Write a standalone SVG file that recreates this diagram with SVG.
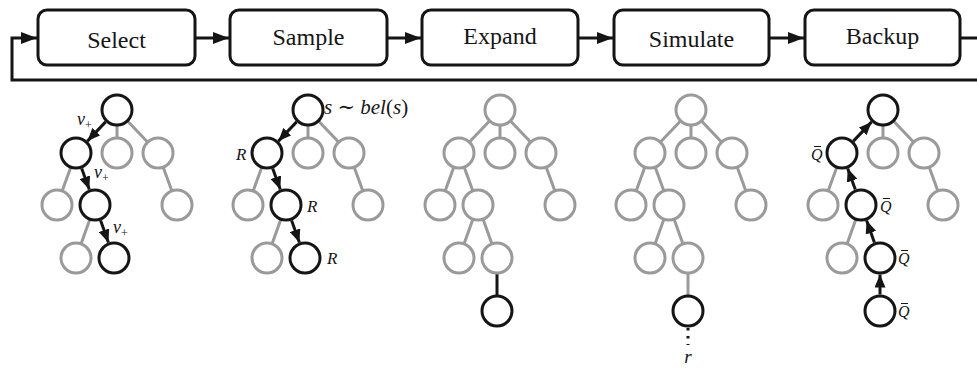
<svg xmlns="http://www.w3.org/2000/svg" width="977" height="369" viewBox="0 0 977 369" font-family="'Liberation Serif', 'DejaVu Serif', serif">
<defs>
<style>
.box{fill:#fff;stroke:#151515;stroke-width:3}
.lbl{font-family:'Liberation Serif','DejaVu Serif',serif;font-size:24px;text-anchor:middle;fill:#151515}
.g{fill:#fff;stroke:#9a9a9a;stroke-width:3}
.k{fill:#fff;stroke:#151515;stroke-width:3}
.eg{stroke:#9a9a9a;stroke-width:3;fill:none}
.ek{stroke:#151515;stroke-width:3;fill:none}
.arr{stroke:#151515;stroke-width:3;fill:none;marker-end:url(#ah)}
.flow{stroke:#151515;stroke-width:3;fill:none}
.m{font-family:'Liberation Serif','DejaVu Serif',serif;font-style:italic;fill:#151515}
.bar{stroke:#151515;stroke-width:1}
</style>
<marker id="ah" markerUnits="userSpaceOnUse" markerWidth="13" markerHeight="11" refX="13" refY="5.5" orient="auto">
<path d="M0,0 L13,5.5 L0,11 z" fill="#151515"/>
</marker>
<marker id="fh" markerUnits="userSpaceOnUse" markerWidth="16" markerHeight="12" refX="16" refY="6" orient="auto">
<path d="M0,0 L16,6 L0,12 z" fill="#151515"/>
</marker>
</defs>

<g id="connectors">
<path class="flow" d="M195,38 H229" marker-end="url(#fh)"/>
<path class="flow" d="M387,38 H421" marker-end="url(#fh)"/>
<path class="flow" d="M578,38 H613" marker-end="url(#fh)"/>
<path class="flow" d="M769,38 H804" marker-end="url(#fh)"/>
<path class="flow" d="M960,38 H990 V80 H12 V38 H37" marker-end="url(#fh)"/>
</g>

<g id="select"><rect class="box" x="38" y="10" width="157" height="55" rx="9"/><text class="lbl" x="116.5" y="47.5">Select</text></g>
<g id="sample"><rect class="box" x="230" y="10" width="157" height="55" rx="9"/><text class="lbl" x="308.5" y="44.5">Sample</text></g>
<g id="expand"><rect class="box" x="422" y="10" width="156" height="55" rx="9"/><text class="lbl" x="500" y="44">Expand</text></g>
<g id="simulate"><rect class="box" x="614" y="10" width="155" height="55" rx="9"/><text class="lbl" x="691.5" y="47">Simulate</text></g>
<g id="backup"><rect class="box" x="805" y="10" width="155" height="55" rx="9"/><text class="lbl" x="882.5" y="43.5">Backup</text></g>

<!-- Tree 1: Select -->
<g id="tree-select" transform="translate(117,110)">
<g class="edges">
<line class="eg" x1="0" y1="0" x2="0" y2="43"/>
<line class="eg" x1="0" y1="0" x2="41" y2="43"/>
<line class="eg" x1="-41" y1="43" x2="-60" y2="95"/>
<line class="eg" x1="41" y1="43" x2="60" y2="95"/>
<line class="eg" x1="-22" y1="95" x2="-41" y2="148"/>
<line class="arr" x1="-11.4" y1="11.9" x2="-29.6" y2="31.1"/>
<line class="arr" x1="-35.3" y1="58.5" x2="-27.7" y2="79.5"/>
<line class="arr" x1="-16.4" y1="110.5" x2="-8.6" y2="132.5"/>
</g>
<g id="s-root"><circle class="k" cx="0" cy="0" r="15"/></g>
<g id="s-a"><circle class="k" cx="-41" cy="43" r="15"/></g>
<g id="s-b"><circle class="g" cx="0" cy="43" r="15"/></g>
<g id="s-c"><circle class="g" cx="41" cy="43" r="15"/></g>
<g id="s-d"><circle class="g" cx="-60" cy="95" r="15"/></g>
<g id="s-e"><circle class="k" cx="-22" cy="95" r="15"/></g>
<g id="s-f"><circle class="g" cx="60" cy="95" r="15"/></g>
<g id="s-g"><circle class="g" cx="-41" cy="148" r="15"/></g>
<g id="s-h"><circle class="k" cx="-3" cy="148" r="15"/></g>
<text class="m" x="-40" y="15" font-size="18">v<tspan font-style="normal" font-size="12" dy="4">+</tspan></text>
<text class="m" x="-23" y="68" font-size="18">v<tspan font-style="normal" font-size="12" dy="4">+</tspan></text>
<text class="m" x="-4" y="123" font-size="18">v<tspan font-style="normal" font-size="12" dy="4">+</tspan></text>
</g>

<!-- Tree 2: Sample -->
<g id="tree-sample" transform="translate(308,110)">
<g class="edges">
<line class="eg" x1="0" y1="0" x2="0" y2="43"/>
<line class="eg" x1="0" y1="0" x2="41" y2="43"/>
<line class="eg" x1="-41" y1="43" x2="-60" y2="95"/>
<line class="eg" x1="41" y1="43" x2="60" y2="95"/>
<line class="eg" x1="-22" y1="95" x2="-41" y2="148"/>
<line class="arr" x1="-11.4" y1="11.9" x2="-29.6" y2="31.1"/>
<line class="arr" x1="-35.3" y1="58.5" x2="-27.7" y2="79.5"/>
<line class="arr" x1="-16.4" y1="110.5" x2="-8.6" y2="132.5"/>
</g>
<g id="p-root"><circle class="k" cx="0" cy="0" r="15"/></g>
<g id="p-a"><circle class="k" cx="-41" cy="43" r="15"/></g>
<g id="p-b"><circle class="g" cx="0" cy="43" r="15"/></g>
<g id="p-c"><circle class="g" cx="41" cy="43" r="15"/></g>
<g id="p-d"><circle class="g" cx="-60" cy="95" r="15"/></g>
<g id="p-e"><circle class="k" cx="-22" cy="95" r="15"/></g>
<g id="p-f"><circle class="g" cx="60" cy="95" r="15"/></g>
<g id="p-g"><circle class="g" cx="-41" cy="148" r="15"/></g>
<g id="p-h"><circle class="k" cx="-3" cy="148" r="15"/></g>
<text class="m" x="16" y="4" font-size="21">s<tspan font-style="normal"> ∼ </tspan>bel<tspan font-style="normal">(</tspan>s<tspan font-style="normal">)</tspan></text>
<text class="m" x="-72" y="50" font-size="17">R</text>
<text class="m" x="-1" y="102" font-size="17">R</text>
<text class="m" x="19" y="154" font-size="17">R</text>
</g>

<!-- Tree 3: Expand -->
<g id="tree-expand" transform="translate(500,110)">
<g class="edges">
<line class="eg" x1="0" y1="0" x2="-41" y2="43"/>
<line class="eg" x1="0" y1="0" x2="0" y2="43"/>
<line class="eg" x1="0" y1="0" x2="41" y2="43"/>
<line class="eg" x1="-41" y1="43" x2="-60" y2="95"/>
<line class="eg" x1="-41" y1="43" x2="-22" y2="95"/>
<line class="eg" x1="41" y1="43" x2="60" y2="95"/>
<line class="eg" x1="-22" y1="95" x2="-41" y2="148"/>
<line class="eg" x1="-22" y1="95" x2="-3" y2="148"/>
<line class="ek" x1="-3" y1="148" x2="-3" y2="201"/>
</g>
<g id="x-root"><circle class="g" cx="0" cy="0" r="15"/></g>
<g id="x-a"><circle class="g" cx="-41" cy="43" r="15"/></g>
<g id="x-b"><circle class="g" cx="0" cy="43" r="15"/></g>
<g id="x-c"><circle class="g" cx="41" cy="43" r="15"/></g>
<g id="x-d"><circle class="g" cx="-60" cy="95" r="15"/></g>
<g id="x-e"><circle class="g" cx="-22" cy="95" r="15"/></g>
<g id="x-f"><circle class="g" cx="60" cy="95" r="15"/></g>
<g id="x-g"><circle class="g" cx="-41" cy="148" r="15"/></g>
<g id="x-h"><circle class="g" cx="-3" cy="148" r="15"/></g>
<g id="x-i"><circle class="k" cx="-3" cy="201" r="15"/></g>
</g>

<!-- Tree 4: Simulate -->
<g id="tree-simulate" transform="translate(691,110)">
<g class="edges">
<line class="eg" x1="0" y1="0" x2="-41" y2="43"/>
<line class="eg" x1="0" y1="0" x2="0" y2="43"/>
<line class="eg" x1="0" y1="0" x2="41" y2="43"/>
<line class="eg" x1="-41" y1="43" x2="-60" y2="95"/>
<line class="eg" x1="-41" y1="43" x2="-22" y2="95"/>
<line class="eg" x1="41" y1="43" x2="60" y2="95"/>
<line class="eg" x1="-22" y1="95" x2="-41" y2="148"/>
<line class="eg" x1="-22" y1="95" x2="-3" y2="148"/>
<line class="eg" x1="-3" y1="148" x2="-3" y2="201"/>
<line class="ek" x1="-3" y1="218" x2="-3" y2="235" stroke-dasharray="2.5,5.5"/>
</g>
<g id="m-root"><circle class="g" cx="0" cy="0" r="15"/></g>
<g id="m-a"><circle class="g" cx="-41" cy="43" r="15"/></g>
<g id="m-b"><circle class="g" cx="0" cy="43" r="15"/></g>
<g id="m-c"><circle class="g" cx="41" cy="43" r="15"/></g>
<g id="m-d"><circle class="g" cx="-60" cy="95" r="15"/></g>
<g id="m-e"><circle class="g" cx="-22" cy="95" r="15"/></g>
<g id="m-f"><circle class="g" cx="60" cy="95" r="15"/></g>
<g id="m-g"><circle class="g" cx="-41" cy="148" r="15"/></g>
<g id="m-h"><circle class="g" cx="-3" cy="148" r="15"/></g>
<g id="m-i"><circle class="k" cx="-3" cy="201" r="15"/></g>
<text class="m" x="-3" y="253" font-size="19" text-anchor="middle">r</text>
</g>

<!-- Tree 5: Backup -->
<g id="tree-backup" transform="translate(883,110)">
<g class="edges">
<line class="eg" x1="0" y1="0" x2="0" y2="43"/>
<line class="eg" x1="0" y1="0" x2="41" y2="43"/>
<line class="eg" x1="-41" y1="43" x2="-60" y2="95"/>
<line class="eg" x1="41" y1="43" x2="60" y2="95"/>
<line class="eg" x1="-22" y1="95" x2="-41" y2="148"/>
<line class="arr" x1="-29.6" y1="31.1" x2="-11.4" y2="11.9"/>
<line class="arr" x1="-27.7" y1="79.5" x2="-35.3" y2="58.5"/>
<line class="arr" x1="-8.6" y1="132.5" x2="-16.4" y2="110.5"/>
<line class="arr" x1="-3" y1="184.5" x2="-3" y2="164.5"/>
</g>
<g id="b-root"><circle class="k" cx="0" cy="0" r="15"/></g>
<g id="b-a"><circle class="k" cx="-41" cy="43" r="15"/></g>
<g id="b-b"><circle class="g" cx="0" cy="43" r="15"/></g>
<g id="b-c"><circle class="g" cx="41" cy="43" r="15"/></g>
<g id="b-d"><circle class="g" cx="-60" cy="95" r="15"/></g>
<g id="b-e"><circle class="k" cx="-22" cy="95" r="15"/></g>
<g id="b-f"><circle class="g" cx="60" cy="95" r="15"/></g>
<g id="b-g"><circle class="g" cx="-41" cy="148" r="15"/></g>
<g id="b-h"><circle class="k" cx="-3" cy="148" r="15"/></g>
<g id="b-i"><circle class="k" cx="-3" cy="201" r="15"/></g>
<text class="m" x="-72" y="50" font-size="16">Q</text>
<line class="bar" x1="-69" y1="36.5" x2="-62" y2="36.5"/>
<text class="m" x="-3" y="102" font-size="16">Q</text>
<line class="bar" x1="0" y1="88.5" x2="7" y2="88.5"/>
<text class="m" x="15" y="154" font-size="16">Q</text>
<line class="bar" x1="18" y1="140.5" x2="25" y2="140.5"/>
<text class="m" x="15" y="207" font-size="16">Q</text>
<line class="bar" x1="18" y1="193.5" x2="25" y2="193.5"/>
</g>
</svg>
